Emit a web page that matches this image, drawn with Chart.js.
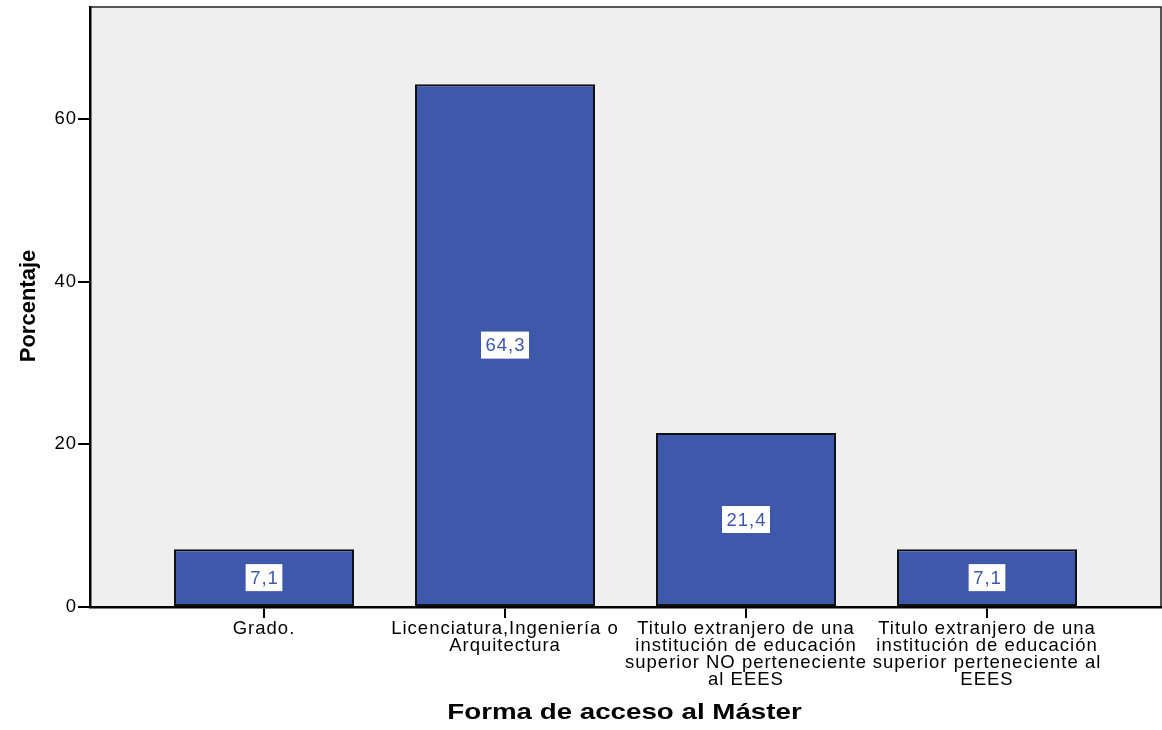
<!DOCTYPE html>
<html>
<head>
<meta charset="utf-8">
<script src="https://cdn.jsdelivr.net/npm/chart.js@4/dist/chart.umd.min.js"></script>
<style>
	body { margin: 0; background: #fff; }
	#wrap { width: 1162px; height: 730px; }
</style>
</head>
<body>
<div id="wrap"><canvas id="chart" width="1162" height="730"></canvas></div>
<script>
const categories = [
	["Grado."],
	["Licenciatura,Ingeniería o", "Arquitectura"],
	["Titulo extranjero de una", "institución de educación", "superior NO perteneciente", "al EEES"],
	["Titulo extranjero de una", "institución de educación", "superior perteneciente al", "EEES"],
];
const percentages = [7.1, 64.3, 21.4, 7.1];
const yTicks = [0, 20, 40, 60];

const FONT = "'Liberation Sans', Arial, sans-serif";
const BAR_BLUE = "#3E58AB";

// grey plot background + thin frame on top/right
const plotBg = {
	id: "plotBg",
	beforeDraw(chart){
		const a = chart.chartArea;
		const ctx = chart.ctx;
		// the original's text is a bit wider than plain Arial
		ctx.letterSpacing = "1px";
		ctx.save();
		ctx.fillStyle = "#EFEFEF";
		ctx.fillRect(a.left, a.top, a.right - a.left, a.bottom - a.top);
		ctx.strokeStyle = "#222";
		ctx.lineWidth = 1.5;
		ctx.beginPath();
		ctx.moveTo(a.left, a.top);
		ctx.lineTo(a.right, a.top);
		ctx.lineTo(a.right, a.bottom);
		ctx.stroke();
		ctx.restore();
	}
};

// value boxes and axis titles
const extras = {
	id: "extras",
	afterDraw(chart){
		const ctx = chart.ctx;
		const meta = chart.getDatasetMeta(0);
		ctx.save();
		ctx.letterSpacing = "1px";
		ctx.font = "18.5px " + FONT;
		ctx.textAlign = "center";
		ctx.textBaseline = "middle";
		meta.data.forEach((bar, i) => {
			const text = percentages[i].toFixed(1).replace(".", ",");
			const w = ctx.measureText(text).width + 8;
			const h = 27;
			const cy = (bar.y + bar.base) / 2;
			ctx.fillStyle = "#fff";
			ctx.fillRect(bar.x - w / 2, cy - h / 2, w, h);
			ctx.fillStyle = BAR_BLUE;
			ctx.fillText(text, bar.x + 0.5, cy + 1);
		});
		ctx.restore();

		ctx.save();
		ctx.letterSpacing = "0px";
		ctx.fillStyle = "#000";
		ctx.font = "bold 22px " + FONT;
		ctx.textAlign = "center";
		ctx.textBaseline = "alphabetic";
		ctx.translate(624.5, 719);
		ctx.scale(1.26, 1);
		ctx.fillText("Forma de acceso al Máster", 0, 0);
		ctx.restore();

		ctx.save();
		ctx.letterSpacing = "0px";
		ctx.fillStyle = "#000";
		ctx.font = "bold 22px " + FONT;
		ctx.textAlign = "center";
		ctx.textBaseline = "alphabetic";
		ctx.translate(35, 306);
		ctx.rotate(-Math.PI / 2);
		ctx.fillText("Porcentaje", 0, 0);
		ctx.restore();
	}
};

new Chart(document.getElementById("chart"), {
	type: "bar",
	data: {
		datasets: [{
			data: percentages.map((v, i) => ({ x: i, y: v })),
			backgroundColor: BAR_BLUE,
			borderColor: "#111",
			borderWidth: 2,
			borderSkipped: false,
			categoryPercentage: 1,
			barPercentage: 0.747,
		}]
	},
	options: {
		responsive: false,
		animation: false,
		layout: { padding: { top: 7, right: 1, left: 0, bottom: 0 } },
		plugins: {
			legend: { display: false },
			tooltip: { enabled: false },
		},
		scales: {
			x: {
				type: "linear",
				offset: false,
				min: -0.722,
				max: 3.722,
				afterBuildTicks(scale){
					scale.ticks = categories.map((c, i) => ({ value: i }));
				},
				afterFit(scale){
					scale.height = 123;
					scale.paddingLeft = 0;
					scale.paddingRight = 0;
				},
				border: { display: true, color: "#000", width: 2.5 },
				grid: { offset: false, drawOnChartArea: false, color: "#000", lineWidth: 2, tickLength: 11 },
				ticks: {
					color: "#000",
					font: { family: FONT, size: 18.5, lineHeight: "17px" },
					padding: 2,
					maxRotation: 0,
					autoSkip: false,
					callback: (v) => categories[v],
				},
			},
			y: {
				min: 0,
				max: 73.8,
				afterBuildTicks(scale){
					scale.ticks = yTicks.map(v => ({ value: v }));
				},
				afterFit(scale){
					scale.width = 90;
					scale.paddingTop = 0;
					scale.paddingBottom = 0;
				},
				border: { display: true, color: "#000", width: 2.5 },
				grid: { drawOnChartArea: false, color: "#000", lineWidth: 2, tickLength: 12 },
				ticks: {
					color: "#000",
					font: { family: FONT, size: 18.5 },
					padding: 1,
				},
			},
		},
	},
	plugins: [plotBg, extras],
});
</script>
</body>
</html>
